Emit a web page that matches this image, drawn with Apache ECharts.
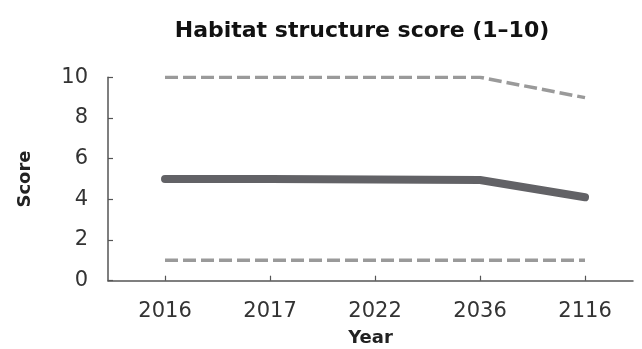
<!DOCTYPE html>
<html>
<head>
<meta charset="utf-8">
<script src="https://cdn.jsdelivr.net/npm/echarts@6/dist/echarts.min.js"></script>
<style>
  html, body { margin: 0; padding: 0; background: #ffffff; }
  #chart { width: 642px; height: 349px; }
</style>
</head>
<body>
<div id="chart"></div>
<script>
const years = ['2016', '2017', '2022', '2036', '2116'];
const scoreMean = [5, 5, 4.98, 4.95, 4.1];
const scoreUpper = [10, 10, 10, 10, 9];
const scoreLower = [1, 1, 1, 1, 1];

const toPairs = arr => arr.map((v, i) => [i, v]);
const idx = years.map((_, i) => i);

const chart = echarts.init(document.getElementById('chart'), null, { renderer: 'canvas' });
const FONT = 'DejaVu Sans';

chart.setOption({
  animation: false,
  backgroundColor: '#ffffff',
  title: {
    text: 'Habitat structure score (1–10)',
    left: 357,
    top: 15,
    textAlign: 'center',
    textStyle: { fontFamily: FONT, fontWeight: 'bold', fontSize: 22, color: '#111111' }
  },
  grid: { left: 108, right: 9, top: 77.3, bottom: 68.3, outerBoundsMode: 'none', containLabel: false },
  xAxis: {
    type: 'value',
    min: -0.543,
    max: 4.457,
    name: 'Year',
    nameLocation: 'middle',
    nameGap: 49,
    nameTextStyle: { fontFamily: FONT, fontWeight: 'bold', fontSize: 18, color: '#222222' },
    axisLine: { show: true, onZero: false, lineStyle: { color: '#555555', width: 1.5 } },
    axisTick: { show: true, inside: true, length: 5, customValues: idx, lineStyle: { color: '#555555', width: 1.2 } },
    axisLabel: {
      customValues: idx,
      margin: 20,
      fontFamily: FONT, fontSize: 21, color: '#333333',
      formatter: v => years[Math.round(v)]
    },
    splitLine: { show: false }
  },
  yAxis: {
    type: 'value',
    min: 0,
    max: 10,
    interval: 2,
    name: 'Score',
    nameLocation: 'middle',
    nameRotate: 90,
    nameGap: 74,
    nameTextStyle: { fontFamily: FONT, fontWeight: 'bold', fontSize: 18, color: '#222222' },
    axisLine: { show: true, onZero: false, lineStyle: { color: '#555555', width: 1.5 } },
    axisTick: { show: true, inside: true, length: 5, lineStyle: { color: '#555555', width: 1.2 } },
    axisLabel: {
      margin: 20,
      fontFamily: FONT, fontSize: 21, color: '#333333'
    },
    splitLine: { show: false }
  },
  series: [
    {
      type: 'line',
      data: toPairs(scoreUpper),
      showSymbol: false,
      symbol: 'none',
      lineStyle: { color: '#9a9a9a', width: 3.5, type: [13, 5] },
      silent: true
    },
    {
      type: 'line',
      data: toPairs(scoreLower),
      showSymbol: false,
      symbol: 'none',
      lineStyle: { color: '#9a9a9a', width: 3.5, type: [13, 5] },
      silent: true
    },
    {
      type: 'line',
      data: toPairs(scoreMean),
      showSymbol: false,
      symbol: 'none',
      lineStyle: { color: '#626266', width: 8, cap: 'round', join: 'round' },
      silent: true
    }
  ]
});
</script>
</body>
</html>
